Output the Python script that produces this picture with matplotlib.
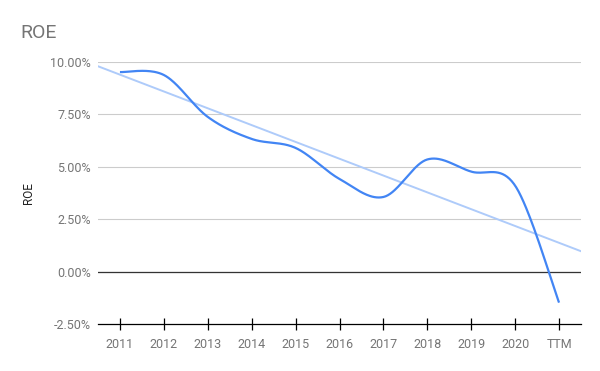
import numpy as np
import matplotlib.pyplot as plt

years = ["2011", "2012", "2013", "2014", "2015", "2016", "2017", "2018", "2019", "2020", "TTM"]
roe = [9.52, 9.38, 7.38, 6.33, 5.90, 4.42, 3.56, 5.35, 4.77, 4.10, -1.48]
y_ticks = [-2.5, 0.0, 2.5, 5.0, 7.5, 10.0]

plt.rcParams['font.family'] = ['Roboto', 'DejaVu Sans']


def smooth(xs, ys, n=40, k=0.5):
    # catmull-rom style bezier smoothing, like the sheets "smooth" option
    xs = np.asarray(xs, float)
    ys = np.asarray(ys, float)
    px, py = [], []
    for i in range(len(xs) - 1):
        x0, y0 = xs[max(i - 1, 0)], ys[max(i - 1, 0)]
        x1, y1 = xs[i], ys[i]
        x2, y2 = xs[i + 1], ys[i + 1]
        x3, y3 = xs[min(i + 2, len(xs) - 1)], ys[min(i + 2, len(ys) - 1)]
        c1x = x1 + (x2 - x0) * k / 3
        c1y = y1 + (y2 - y0) * k / 3
        c2x = x2 - (x3 - x1) * k / 3
        c2y = y2 - (y3 - y1) * k / 3
        t = np.linspace(0, 1, n)
        bx = (1-t)**3*x1 + 3*(1-t)**2*t*c1x + 3*(1-t)*t**2*c2x + t**3*x2
        by = (1-t)**3*y1 + 3*(1-t)**2*t*c1y + 3*(1-t)*t**2*c2y + t**3*y2
        px.extend(bx)
        py.extend(by)
    return px, py


fig = plt.figure(figsize=(6, 3.71), dpi=100)
ax = fig.add_axes([98/600, 1-324/371, (581-98)/600, (324-62)/371])

x = np.arange(len(years))

# trendline over the full width
a, b = np.polyfit(x, roe, 1)
tx = np.array([-0.5, len(years) - 0.5])
ax.plot(tx, a*tx + b, color='#aecbfa', lw=1.4, zorder=2)

sx, sy = smooth(x, roe)
ax.plot(sx, sy, color='#4285f4', lw=1.6, zorder=3, solid_capstyle='butt')

ax.set_xlim(-0.5, len(years) - 0.5)
ax.set_ylim(-2.5, 10)
ax.set_yticks(y_ticks)
ax.set_yticklabels(["{:.2f}%".format(v) for v in y_ticks])
ax.set_xticks(x)
ax.set_xticklabels(years)

for v in y_ticks[1:]:
    ax.axhline(v, color='#cccccc', lw=0.8, zorder=1)
ax.axhline(0, color='#333333', lw=0.9, zorder=1)

for s in ['top', 'right', 'left']:
    ax.spines[s].set_visible(False)
ax.spines['bottom'].set_color('black')
ax.spines['bottom'].set_linewidth(0.9)

ax.tick_params(axis='y', length=0, pad=5, labelsize=9, labelcolor='#757575')
ax.tick_params(axis='x', direction='inout', length=8, width=0.9, pad=6,
               labelsize=9, labelcolor='#757575')

ax.set_ylabel("ROE", fontsize=8.5, color='#222222', labelpad=11)
fig.text(20/600, 1-33/371, "ROE", fontsize=14, color='#757575', va='center', ha='left')

fig.savefig("out.png", dpi=100, facecolor='white')
